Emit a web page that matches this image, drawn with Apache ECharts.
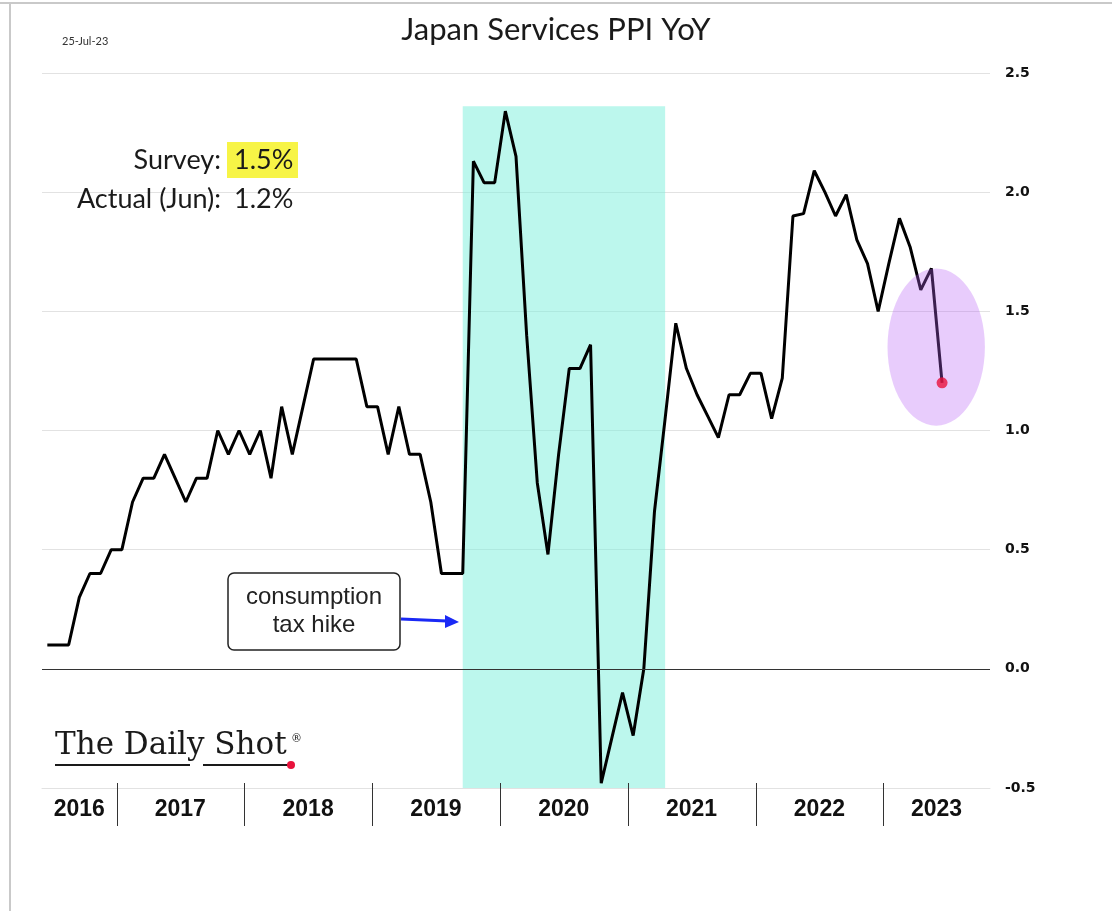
<!DOCTYPE html>
<html>
<head>
<meta charset="utf-8">
<script src="https://cdn.jsdelivr.net/npm/echarts@6/dist/echarts.min.js"></script>
<style>
  html, body { margin: 0; padding: 0; background: #fff; }
  #chart { width: 1112px; height: 911px; }
</style>
</head>
<body>
<div id="chart"></div>
<script>
// monthly axis: Jun 2016 .. Oct 2023 (line ends Jun 2023)
const startYear = 2016, startMonth = 6
const endYear = 2023, endMonth = 10

const yearLabels = ['2016', '2017', '2018', '2019', '2020', '2021', '2022', '2023']

// Japan services PPI, % YoY, Jun 2016 .. Jun 2023
const ppiValues = [
  0.1, 0.1, 0.1, 0.3, 0.4, 0.4, 0.5,                          // 2016 Jun-Dec
  0.5, 0.7, 0.8, 0.8, 0.9, 0.8, 0.7, 0.8, 0.8, 1.0, 0.9, 1.0,  // 2017
  0.9, 1.0, 0.8, 1.1, 0.9, 1.1, 1.3, 1.3, 1.3, 1.3, 1.3, 1.1,  // 2018
  1.1, 0.9, 1.1, 0.9, 0.9, 0.7, 0.4, 0.4, 0.4, 2.13, 2.04, 2.04, // 2019
  2.34, 2.15, 1.4, 0.78, 0.48, 0.9, 1.26, 1.26, 1.36, -0.48, -0.29, -0.1, // 2020
  -0.28, 0.0, 0.66, 1.05, 1.45, 1.26, 1.15, 1.06, 0.97, 1.15, 1.15, 1.24, // 2021
  1.24, 1.05, 1.22, 1.9, 1.91, 2.09, 2.0, 1.9, 1.99, 1.8, 1.7, 1.5,       // 2022
  1.7, 1.89, 1.77, 1.59, 1.68, 1.2                             // 2023 Jan-Jun
]

// shaded period (consumption tax hike / covid)
const shadeFrom = '2019-09'
const shadeTo = '2021-04'
const shadeTop = 2.36

const surveyText = '1.5%'
const actualText = '1.2%'

// build month categories
const categories = []
for (let y = startYear; y <= endYear; y++) {
  const m0 = y === startYear ? startMonth : 1
  const m1 = y === endYear ? endMonth : 12
  for (let m = m0; m <= m1; m++) {
    categories.push(y + '-' + String(m).padStart(2, '0'))
  }
}

// year label sits in the middle of the visible part of each year
const labelAt = {}
yearLabels.forEach(yr => {
  const idx = categories.map((c, i) => c.startsWith(yr) ? i : -1).filter(i => i >= 0)
  const mid = (idx[0] + idx[idx.length - 1] + 1) / 2
  const i = Math.floor(mid)
  labelAt[i] = { text: yr, shift: mid - i < 0.25 }
})

// year separators at each January
const januaries = categories.map((c, i) => c.endsWith('-01') ? [i, -0.5] : null).filter(Boolean)

const lastIdx = ppiValues.length - 1

const chart = echarts.init(document.getElementById('chart'))

const option = {
  animation: false,
  backgroundColor: '#fff',
  title: {
    text: 'Japan Services PPI YoY',
    left: 'center',
    top: 9,
    textStyle: { fontFamily: 'Lato', fontSize: 31, fontWeight: 'normal', color: '#1a1a1a' }
  },
  grid: { left: 42, right: 122, top: 73, bottom: 123 },
  xAxis: {
    type: 'category',
    data: categories,
    boundaryGap: true,
    axisLine: { onZero: false, lineStyle: { color: '#e2e2e2', width: 1 } },
    axisTick: { show: false },
    axisLabel: {
      interval: i => labelAt[i] !== undefined,
      margin: 10,
      formatter: (v, i) => {
        const l = labelAt[i]
        if (!l) return ''
        return l.shift ? '{l|' + l.text + '}' : '{c|' + l.text + '}'
      },
      rich: {
        c: { fontFamily: 'Liberation Sans', fontWeight: 'bold', fontSize: 23, color: '#111' },
        l: { fontFamily: 'Liberation Sans', fontWeight: 'bold', fontSize: 23, color: '#111', padding: [0, 11, 0, 0] }
      }
    },
    splitLine: { show: false }
  },
  yAxis: {
    type: 'value',
    position: 'right',
    min: -0.5,
    max: 2.5,
    interval: 0.5,
    axisLine: { show: false },
    axisTick: { show: false },
    axisLabel: {
      margin: 15,
      formatter: v => v.toFixed(1),
      fontFamily: 'DejaVu Sans',
      fontWeight: 'bold',
      fontSize: 14,
      color: '#111'
    },
    splitLine: { lineStyle: { color: '#e2e2e2', width: 1 } }
  },
  series: [
    {
      type: 'line',
      data: [],
      z: 1,
      silent: true,
      markArea: {
        silent: true,
        itemStyle: { color: 'rgba(121,239,219,0.5)' },
        data: [[{ xAxis: shadeFrom, yAxis: -0.5 }, { xAxis: shadeTo, yAxis: shadeTop }]]
      }
    },
    {
      name: 'Services PPI',
      type: 'line',
      data: ppiValues,
      z: 2,
      symbol: 'none',
      lineStyle: { color: '#000', width: 3 },
      markLine: {
        silent: true,
        symbol: ['none', 'none'],
        label: { show: false },
        lineStyle: { color: '#333', width: 1, type: 'solid' },
        data: [{ yAxis: 0 }]
      }
    },
    {
      type: 'scatter',
      z: 10,
      data: [[lastIdx, ppiValues[lastIdx]]],
      symbolSize: 11,
      itemStyle: { color: '#e8123c' }
    },
    {
      type: 'custom',
      z: 3,
      silent: true,
      clip: false,
      data: januaries,
      renderItem: (params, api) => {
        const p = api.coord([api.value(0), api.value(1)])
        const x = Math.round(p[0] - api.size([1, 0])[0] / 2) + 0.5
        return {
          type: 'line',
          shape: { x1: x, y1: p[1] - 5, x2: x, y2: p[1] + 38 },
          style: { stroke: '#333', lineWidth: 1 }
        }
      }
    }
  ]
}

chart.setOption(option)

// ellipse around the latest print, sized in data units
const band = chart.convertToPixel({ xAxisIndex: 0 }, 1) - chart.convertToPixel({ xAxisIndex: 0 }, 0)
const ec = chart.convertToPixel({ seriesIndex: 1 }, [lastIdx, 1.35])
const eTop = chart.convertToPixel({ seriesIndex: 1 }, [lastIdx, 1.68])

chart.setOption({
  graphic: [
    // frame
    { type: 'line', z: 20, shape: { x1: 0, y1: 3, x2: 1112, y2: 3 }, style: { stroke: '#c9c9c9', lineWidth: 2 } },
    { type: 'line', z: 20, shape: { x1: 10, y1: 3, x2: 10, y2: 911 }, style: { stroke: '#c9c9c9', lineWidth: 2 } },
    {
      type: 'text', z: 20, x: 62, y: 41,
      style: { text: '25-Jul-23', fontFamily: 'Lato', fontSize: 11, fill: '#333', verticalAlign: 'middle' }
    },
    {
      type: 'ellipse', z: 5,
      shape: { cx: ec[0] - band * 0.55, cy: ec[1], rx: band * 4.57, ry: ec[1] - eTop[1] },
      style: { fill: 'rgba(185,95,245,0.32)' }
    },
    // survey / actual
    { type: 'rect', z: 20, shape: { x: 227, y: 142, width: 71, height: 36 }, style: { fill: '#f7f446' } },
    {
      type: 'text', z: 21, x: 221, y: 160,
      style: { text: 'Survey:', align: 'right', verticalAlign: 'middle', fontFamily: 'Lato', fontSize: 27, fill: '#1a1a1a' }
    },
    {
      type: 'text', z: 21, x: 234, y: 160,
      style: { text: surveyText, align: 'left', verticalAlign: 'middle', fontFamily: 'Lato', fontSize: 27, fill: '#1a1a1a' }
    },
    {
      type: 'text', z: 21, x: 221, y: 199,
      style: { text: 'Actual (Jun):', align: 'right', verticalAlign: 'middle', fontFamily: 'Lato', fontSize: 27, fill: '#1a1a1a' }
    },
    {
      type: 'text', z: 21, x: 234, y: 199,
      style: { text: actualText, align: 'left', verticalAlign: 'middle', fontFamily: 'Lato', fontSize: 27, fill: '#1a1a1a' }
    },
    // consumption tax box + arrow
    {
      type: 'rect', z: 20, shape: { x: 228, y: 573, width: 172, height: 77, r: 6 },
      style: { fill: '#fff', stroke: '#222', lineWidth: 1.5 }
    },
    {
      type: 'text', z: 21, x: 314, y: 611,
      style: {
        text: 'consumption\ntax hike', align: 'center', verticalAlign: 'middle',
        fontFamily: 'Liberation Sans', fontSize: 24, lineHeight: 28, fill: '#222'
      }
    },
    { type: 'line', z: 20, shape: { x1: 401, y1: 619, x2: 447, y2: 621 }, style: { stroke: '#1a29f5', lineWidth: 3 } },
    { type: 'polygon', z: 20, shape: { points: [[445, 615], [459, 622], [445, 628]] }, style: { fill: '#1a29f5' } },
    // logo
    {
      type: 'text', z: 20, x: 55, y: 746,
      style: { text: 'The Daily Shot', verticalAlign: 'middle', fontFamily: 'DejaVu Serif', fontSize: 31, fill: '#1a1a1a' }
    },
    { type: 'text', z: 20, x: 291, y: 739, style: { text: '®', verticalAlign: 'middle', fontFamily: 'DejaVu Serif', fontSize: 11, fill: '#1a1a1a' } },
    { type: 'line', z: 20, shape: { x1: 55, y1: 765, x2: 190, y2: 765 }, style: { stroke: '#1a1a1a', lineWidth: 2 } },
    { type: 'line', z: 20, shape: { x1: 203, y1: 765, x2: 289, y2: 765 }, style: { stroke: '#1a1a1a', lineWidth: 2 } },
    { type: 'circle', z: 20, shape: { cx: 291, cy: 765, r: 4 }, style: { fill: '#e8123c' } }
  ]
})

window.addEventListener('resize', () => chart.resize())
</script>
</body>
</html>
